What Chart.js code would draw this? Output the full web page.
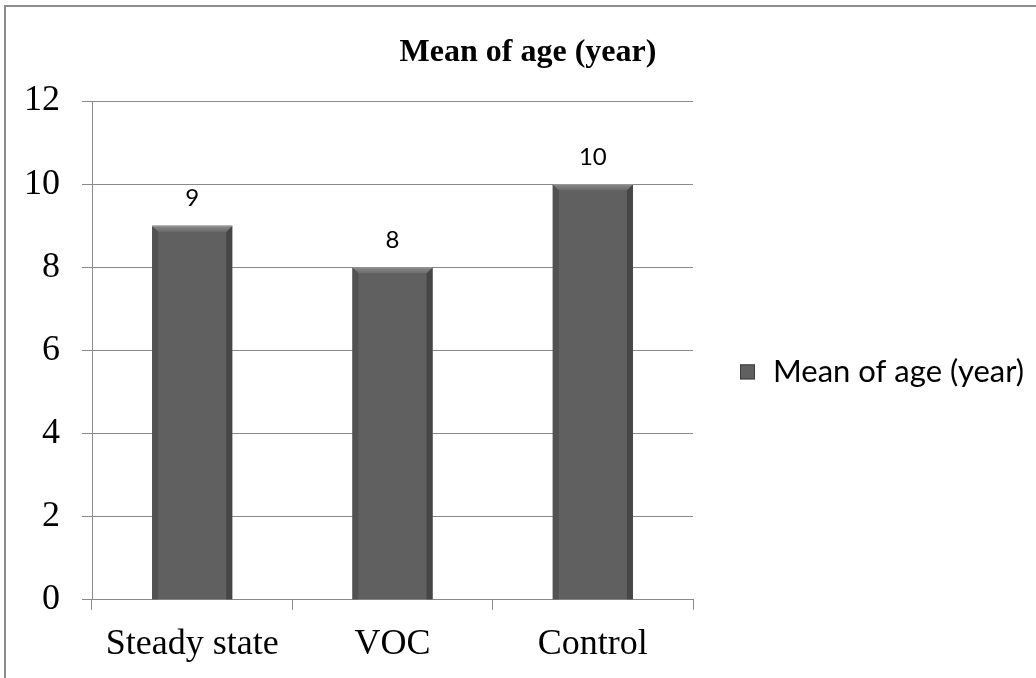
<!DOCTYPE html>
<html>
<head>
<meta charset="utf-8">
<script src="https://cdn.jsdelivr.net/npm/chart.js@4/dist/chart.umd.min.js"></script>
<style>
  html, body { margin: 0; padding: 0; background: #fff; }
  .wrap { position: relative; width: 1036px; height: 678px; overflow: hidden; }
  .frame {
    position: absolute; left: 4px; top: 5px; right: -4px; bottom: -4px;
    border-left: 2px solid #8c8c8c; border-top: 2px solid #8c8c8c;
  }
  canvas { position: absolute; left: 0; top: 0; }
</style>
</head>
<body>
<div class="wrap">
  <div class="frame"></div>
  <canvas id="ageChart" width="1036" height="678"></canvas>
</div>
<script>
// values
const categories = ['Steady state', 'VOC', 'Control'];
const meanAge = [9, 8, 10];
const yTicks = [0, 2, 4, 6, 8, 10, 12];
const seriesName = 'Mean of age (year)';
const chartTitle = 'Mean of age (year)';

const gridGray = '#8a8a8a';
const barFace = '#606060';

/**
 * bevelPlugin - paints the office-style bevel on every bar (top highlight, darker sides)
 */
const bevelPlugin = {
  id: 'bevel',
  afterDatasetsDraw(chart) {
    const { ctx } = chart;
    const meta = chart.getDatasetMeta(0);
    meta.data.forEach((bar) => {
      const left = bar.x - bar.width / 2;
      const right = bar.x + bar.width / 2;
      const top = bar.y;
      const bottom = bar.base;
      const b = 6;
      ctx.save();
      // left side
      ctx.fillStyle = '#525252';
      ctx.beginPath();
      ctx.moveTo(left, top);
      ctx.lineTo(left + b, top + b);
      ctx.lineTo(left + b, bottom);
      ctx.lineTo(left, bottom);
      ctx.closePath();
      ctx.fill();
      // right side
      ctx.fillStyle = '#464646';
      ctx.beginPath();
      ctx.moveTo(right, top);
      ctx.lineTo(right - b, top + b);
      ctx.lineTo(right - b, bottom);
      ctx.lineTo(right, bottom);
      ctx.closePath();
      ctx.fill();
      // top highlight
      const g = ctx.createLinearGradient(0, top, 0, top + b);
      g.addColorStop(0, '#8a8a8a');
      g.addColorStop(1, '#6c6c6c');
      ctx.fillStyle = g;
      ctx.beginPath();
      ctx.moveTo(left, top);
      ctx.lineTo(right, top);
      ctx.lineTo(right - b, top + b);
      ctx.lineTo(left + b, top + b);
      ctx.closePath();
      ctx.fill();
      ctx.strokeStyle = '#9a9a9a';
      ctx.lineWidth = 1;
      ctx.beginPath();
      ctx.moveTo(left, top + 0.5);
      ctx.lineTo(right, top + 0.5);
      ctx.stroke();
      ctx.restore();
    });
  },
};

/**
 * valueLabels - writes each bar's value above it
 */
const valueLabels = {
  id: 'valueLabels',
  afterDatasetsDraw(chart) {
    const { ctx } = chart;
    const ds = chart.data.datasets[0];
    const meta = chart.getDatasetMeta(0);
    ctx.save();
    ctx.font = '24px Lato, "Open Sans", sans-serif';
    ctx.fillStyle = '#000';
    ctx.textAlign = 'center';
    ctx.textBaseline = 'middle';
    meta.data.forEach((bar, i) => {
      ctx.fillText(String(ds.data[i]), bar.x, bar.y - 27);
    });
    ctx.restore();
  },
};

/**
 * titleText - bold serif heading, centred over the whole frame like the original
 */
const titleText = {
  id: 'titleText',
  afterDraw(chart) {
    const { ctx } = chart;
    ctx.save();
    ctx.font = 'bold 32px "Liberation Serif", serif';
    ctx.fillStyle = '#000';
    ctx.textAlign = 'center';
    ctx.textBaseline = 'middle';
    ctx.fillText(chartTitle, 528, 53);
    ctx.restore();
  },
};

/**
 * sideLegend - single-entry legend to the right of the plot, sitting a bit below its middle
 */
const sideLegend = {
  id: 'sideLegend',
  afterDraw(chart) {
    const { ctx, chartArea } = chart;
    const ds = chart.data.datasets[0];
    const x = chartArea.right + 47;
    const y = (chartArea.top + chartArea.bottom) / 2 + 21;
    ctx.save();
    ctx.fillStyle = ds.backgroundColor;
    ctx.fillRect(x, y - 7, 15, 15);
    ctx.strokeStyle = '#3e3e3e';
    ctx.lineWidth = 1;
    ctx.strokeRect(x + 0.5, y - 6.5, 14, 14);
    ctx.fillStyle = '#000';
    ctx.font = '31px Lato, "Open Sans", sans-serif';
    ctx.textAlign = 'left';
    ctx.textBaseline = 'middle';
    ctx.fillText(ds.label, x + 33, y + 1);
    ctx.restore();
  },
};

const ctx = document.getElementById('ageChart').getContext('2d');

const ageChart = new Chart(ctx, {
  type: 'bar',
  data: {
    labels: categories,
    datasets: [{
      label: seriesName,
      data: meanAge,
      backgroundColor: barFace,
      borderWidth: 0,
      barPercentage: 0.4,
      categoryPercentage: 1,
    }],
  },
  options: {
    responsive: false,
    devicePixelRatio: 1,
    animation: false,
    layout: {
      padding: { left: 25, top: 101, right: 343, bottom: -1 },
    },
    plugins: {
      title: { display: false },
      tooltip: { enabled: false },
      legend: { display: false },
    },
    scales: {
      x: {
        grid: {
          display: true,
          drawOnChartArea: false,
          drawTicks: true,
          tickLength: 10,
          color: gridGray,
          offset: true,
        },
        border: { display: true, color: gridGray, width: 1 },
        ticks: {
          color: '#000',
          padding: 13,
          font: { family: '"Liberation Serif", serif', size: 36 },
        },
      },
      y: {
        min: yTicks[0],
        max: yTicks[yTicks.length - 1],
        afterBuildTicks(scale) {
          scale.ticks = yTicks.map((v) => ({ value: v }));
        },
        afterFit(scale) {
          scale.width = 67;
        },
        grid: {
          color: gridGray,
          tickLength: 10,
        },
        border: { display: true, color: gridGray, width: 1 },
        ticks: {
          color: '#000',
          padding: 22,
          font: { family: '"Liberation Serif", serif', size: 36 },
        },
      },
    },
  },
  plugins: [bevelPlugin, valueLabels, titleText, sideLegend],
});
</script>
</body>
</html>
